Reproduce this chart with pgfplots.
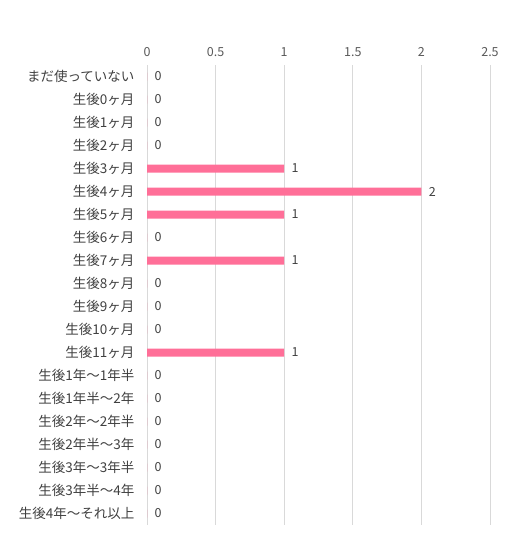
\documentclass[border=0pt]{standalone}
\usepackage{fontspec}
\setmainfont{Noto Sans CJK JP}
\usepackage{pgfplots}
\pgfplotsset{compat=1.18}
\definecolor{barpink}{RGB}{255,111,152}
\definecolor{gridgray}{RGB}{217,217,217}
\definecolor{labelgray}{RGB}{64,64,64}
\definecolor{tickgray}{RGB}{89,89,89}

\begin{document}
\begin{tikzpicture}
\path[use as bounding box] (0pt,0pt) rectangle (528pt,554pt);
\begin{axis}[
    at={(147pt,29pt)}, anchor=south west,
    scale only axis,
    width=343pt, height=460pt,
    xbar, bar width=8pt,
    xmin=0, xmax=2.5,
    ymin=-0.5, ymax=19.5,
    y dir=reverse,
    xtick={0,0.5,1,1.5,2,2.5},
    xticklabel pos=top,
    xticklabel style={font=\fontsize{12.5}{14}\selectfont, color=tickgray, yshift=5pt},
    ytick={0,...,19},
    yticklabels={まだ使っていない,生後0ヶ月,生後1ヶ月,生後2ヶ月,生後3ヶ月,生後4ヶ月,生後5ヶ月,生後6ヶ月,生後7ヶ月,生後8ヶ月,生後9ヶ月,生後10ヶ月,生後11ヶ月,生後1年～1年半,生後1年半～2年,生後2年～2年半,生後2年半～3年,生後3年～3年半,生後3年半～4年,生後4年～それ以上},
    yticklabel style={font=\fontsize{13.5}{15}\selectfont, color=labelgray, xshift=-9pt},
    axis line style={draw=none},
    major tick length=0pt,
    xmajorgrids, grid style={gridgray, line width=0.8pt},
    /pgf/number format/assume math mode=true,
    nodes near coords,
    nodes near coords align={horizontal},
    every node near coord/.append style={font=\fontsize{12.5}{14}\selectfont, color=labelgray, xshift=4pt},
]
\addplot[fill=barpink, draw=none] coordinates {
    (0,0) (0,1) (0,2) (0,3) (1,4) (2,5) (1,6) (0,7) (1,8) (0,9)
    (0,10) (0,11) (1,12) (0,13) (0,14) (0,15) (0,16) (0,17) (0,18) (0,19)
};
\end{axis}
\end{tikzpicture}
\end{document}
